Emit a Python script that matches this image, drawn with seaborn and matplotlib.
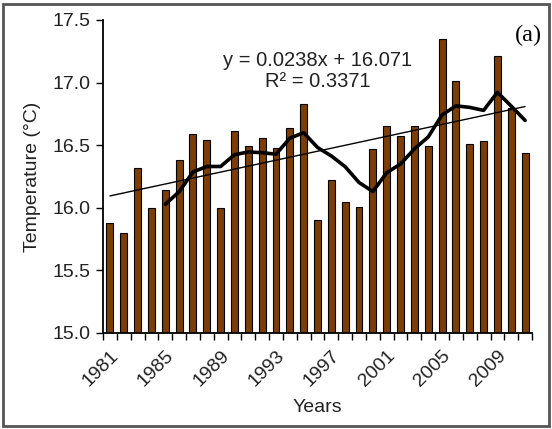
import matplotlib
matplotlib.use("Agg")
import matplotlib.pyplot as plt
import pandas as pd
import numpy as np
import seaborn as sns
from matplotlib.patches import Rectangle

# Annual mean temperature, 1981-2011
years = list(range(1981, 2012))
temps = [15.88, 15.80, 16.32, 16.00, 16.14, 16.38, 16.59, 16.54, 16.00, 16.61,
         16.49, 16.56, 16.48, 16.64, 16.83, 15.90, 16.22, 16.05, 16.01, 16.47,
         16.65, 16.57, 16.65, 16.49, 17.35, 17.01, 16.51, 16.53, 17.21, 16.80,
         16.44]

# linear trend shown on the chart
slope = 0.0238
intercept = 16.071
r2 = 0.3371

df = pd.DataFrame({"year": [str(y) for y in years], "temp": temps})
df["ma5"] = df["temp"].rolling(5).mean()

sns.set_style("white")
plt.rcParams["font.family"] = ["Liberation Sans", "DejaVu Sans"]

fig = plt.figure(figsize=(5.52, 4.29), dpi=100)
ax = fig.add_axes([0.1866, 0.2238, 0.7772, 0.7296])

sns.barplot(
    data=df,
    x="year",
    y="temp",
    color="#7c3d06",
    saturation=1,
    edgecolor="black",
    linewidth=0.8,
    width=0.5,
    ax=ax
)

pos = np.arange(len(years))
ax.plot(pos, intercept + slope * (pos + 1), color="black", lw=1.0)
ax.plot(pos, df["ma5"], color="black", lw=2.6, solid_joinstyle="round")

ax.set_ylim(15.0, 17.5)
ax.set_xlim(-0.5, len(years) - 0.5)
ax.set_yticks(np.arange(15.0, 17.51, 0.5))
ax.set_yticklabels([f"{v:.1f}" for v in np.arange(15.0, 17.51, 0.5)])

# ticks between categories, labels every 4 years
ax.set_xticks(np.arange(-0.5, len(years), 1.0))
ax.set_xticklabels([])
ax.set_xticks(pos[::4], minor=True)
ax.set_xticklabels([str(y) for y in years[::4]], minor=True,
                   rotation=45, ha="right", rotation_mode="anchor")
ax.tick_params(axis="x", which="major", direction="out", length=5,
               width=1, color="black", bottom=True)
ax.tick_params(axis="x", which="minor", length=0, pad=10, labelsize=14,
               colors="#222222")
ax.tick_params(axis="y", direction="out", length=5, width=1, color="black",
               left=True, labelsize=14, labelcolor="#222222", pad=4)

for side in ["top", "right"]:
    ax.spines[side].set_visible(False)
for side in ["left", "bottom"]:
    ax.spines[side].set_color("black")
    ax.spines[side].set_linewidth(1.3)

ax.set_xlabel("Years", fontsize=14, color="#222222", labelpad=7)
ax.set_ylabel("Temperature (°C)", fontsize=14, color="#222222", labelpad=8)

ax.text(0.501, 0.872, f"y = {slope}x + {intercept}", transform=ax.transAxes,
        ha="center", va="center", fontsize=14.5, color="#222222")
ax.text(0.501, 0.802, f"R² = {r2}", transform=ax.transAxes,
        ha="center", va="center", fontsize=14.5, color="#222222")

fig.text(0.958, 0.918, "(a)", ha="center", va="center", fontsize=17.5,
         family=["Liberation Serif", "DejaVu Serif"], color="black")

fig.patches.append(Rectangle((0.006, 0.006), 0.988, 0.984,
                             transform=fig.transFigure, fill=False,
                             edgecolor="#555555", linewidth=2))

fig.savefig("out.png", dpi=100)
